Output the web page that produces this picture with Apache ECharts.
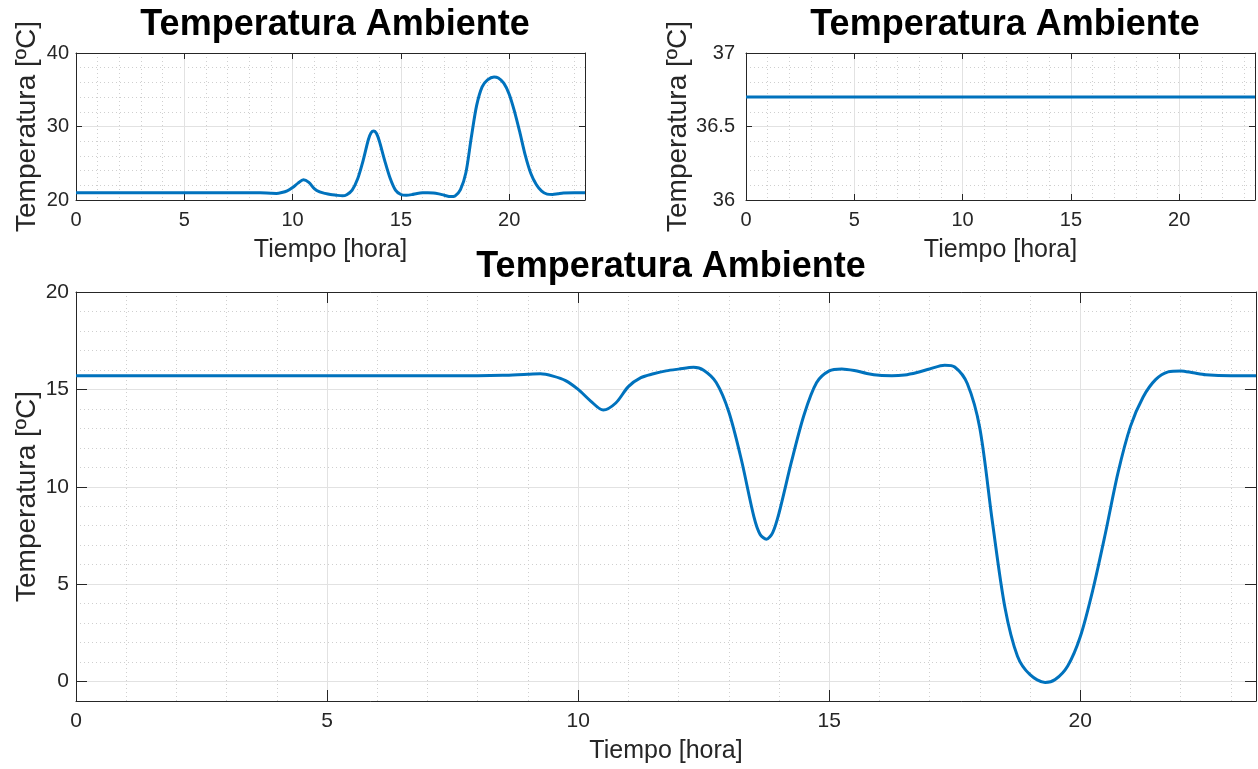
<!DOCTYPE html>
<html>
<head>
<meta charset="utf-8">
<script src="https://cdn.jsdelivr.net/npm/echarts@6/dist/echarts.min.js"></script>
<style>
html, body { margin: 0; padding: 0; background: #fff; }
#chart { width: 1258px; height: 769px; }
</style>
</head>
<body>
<div id="chart"></div>
<script>
// horas
var hours = [0, 1, 2, 3, 4, 5, 6, 7, 8,
	8.5, 9, 9.25, 9.5, 9.75,
	10, 10.25, 10.5, 10.75,
	11, 11.25, 11.5, 11.75,
	12, 12.3, 12.5, 12.75,
	13, 13.25, 13.5, 13.625, 13.75, 13.875,
	14, 14.25, 14.5, 14.75,
	15, 15.25, 15.5, 15.75,
	16, 16.25, 16.5, 16.75,
	17, 17.3, 17.5, 17.75,
	18, 18.25, 18.5, 18.75,
	19, 19.3, 19.5, 19.75,
	20, 20.25, 20.5, 20.75,
	21, 21.25, 21.5, 21.75,
	22, 22.25, 22.5,
	23, 23.5];

// arriba izquierda
var tempAmbiente = [21, 21, 21, 21, 21, 21, 21, 21, 21,
	20.98, 20.92, 20.9, 21.02, 21.25,
	21.7, 22.3, 22.76, 22.4,
	21.56, 21.1, 20.9, 20.75,
	20.66, 20.57, 20.72, 21.35,
	22.85, 25.3, 28.23, 29.15, 29.39, 29.05,
	28.06, 25.4, 23.0, 21.35,
	20.75, 20.65, 20.73, 20.88,
	20.98, 21.0, 20.96, 20.83,
	20.65, 20.46, 20.55, 21.4,
	23.7, 28.5, 32.9, 35.4,
	36.35, 36.75, 36.6, 35.9,
	34.4, 32.0, 29.1, 26.0,
	23.6, 22.1, 21.2, 20.8,
	20.75, 20.85, 20.95,
	21.0, 21.0];

// arriba derecha
var constHours = [0, 23.5];
var tempConstante = [36.7, 36.7];

// abajo
var tempDiferencia = [15.7, 15.7, 15.7, 15.7, 15.7, 15.7, 15.7, 15.7, 15.7,
	15.72, 15.78, 15.8, 15.68, 15.45,
	15.0, 14.4, 13.94, 14.3,
	15.14, 15.6, 15.8, 15.95,
	16.04, 16.13, 15.98, 15.35,
	13.85, 11.4, 8.47, 7.55, 7.31, 7.65,
	8.64, 11.3, 13.7, 15.35,
	15.95, 16.05, 15.97, 15.82,
	15.72, 15.7, 15.74, 15.87,
	16.05, 16.24, 16.15, 15.3,
	13.0, 8.2, 3.8, 1.3,
	0.35, -0.05, 0.1, 0.8,
	2.3, 4.7, 7.6, 10.7,
	13.1, 14.6, 15.5, 15.9,
	15.95, 15.85, 15.75,
	15.7, 15.7];

var font = 'Liberation Sans, Arial, Helvetica, sans-serif';
var axisColor = '#262626';
var lineColor = '#0072BD';

function pairs(xs, ys){
	var out = [];
	for(var i=0; i<xs.length; i++){
		out.push([xs[i], ys[i]]);
	}
	return out;
}

function xAxisMain(grid, tickLen, labelSize){
	return {
		type: 'value', gridIndex: grid, position: 'bottom',
		min: 0, max: 23.5, interval: 5,
		name: 'Tiempo [hora]', nameLocation: 'middle', nameGap: 38, nameMoveOverlap: false,
		nameTextStyle: { fontSize: 25, color: axisColor, fontFamily: font },
		axisLine: { show: true, onZero: false, lineStyle: { color: axisColor, width: 1 } },
		axisTick: { show: true, inside: true, length: tickLen, lineStyle: { color: axisColor } },
		axisLabel: {
			fontSize: labelSize, color: axisColor, fontFamily: font, margin: 10,
			formatter: function(v){ return v > 23 ? '' : String(v); }
		},
		splitLine: { show: true, lineStyle: { color: '#e2e2e2', width: 1 } },
		minorTick: { show: false, splitNumber: 5 },
		minorSplitLine: { show: true, lineStyle: { color: '#cfcfcf', width: 1, type: [1, 3] } }
	};
}

function xAxisBox(grid, tickLen){
	return {
		type: 'value', gridIndex: grid, position: 'top',
		min: 0, max: 23.5, interval: 5,
		axisLine: { show: true, onZero: false, lineStyle: { color: axisColor, width: 1 } },
		axisTick: { show: true, inside: true, length: tickLen, lineStyle: { color: axisColor } },
		axisLabel: { show: false },
		splitLine: { show: false }
	};
}

function yAxisMain(grid, range, tickLen, labelSize, margin, gap){
	var ax = {
		type: 'value', gridIndex: grid, position: 'left',
		min: range[0], max: range[1],
		name: 'Temperatura [ºC]', nameLocation: 'middle', nameGap: gap, nameMoveOverlap: false,
		nameTextStyle: { fontSize: 28, color: axisColor, fontFamily: font },
		axisLine: { show: true, onZero: false, lineStyle: { color: axisColor, width: 1 } },
		axisTick: { show: true, inside: true, length: tickLen, lineStyle: { color: axisColor } },
		axisLabel: {
			fontSize: labelSize, color: axisColor, fontFamily: font, margin: margin,
			formatter: function(v){ return v < range[0] + 1e-9 && range[0] < 0 ? '' : String(v); }
		},
		splitLine: { show: true, lineStyle: { color: '#e2e2e2', width: 1 } },
		minorTick: { show: false, splitNumber: 5 },
		minorSplitLine: { show: true, lineStyle: { color: '#cfcfcf', width: 1, type: [1, 3] } }
	};
	if(range[2]) ax.interval = range[2];
	else ax.splitNumber = 5;
	return ax;
}

function yAxisBox(grid, range, tickLen){
	var ax = {
		type: 'value', gridIndex: grid, position: 'right',
		min: range[0], max: range[1],
		axisLine: { show: true, onZero: false, lineStyle: { color: axisColor, width: 1 } },
		axisTick: { show: true, inside: true, length: tickLen, lineStyle: { color: axisColor } },
		axisLabel: { show: false },
		splitLine: { show: false }
	};
	if(range[2]) ax.interval = range[2];
	else ax.splitNumber = 5;
	return ax;
}

function lineSeries(xi, yi, data){
	return {
		type: 'line', xAxisIndex: xi, yAxisIndex: yi,
		data: data, showSymbol: false, symbol: 'none',
		smooth: 0.3,
		lineStyle: { color: lineColor, width: 3 },
		itemStyle: { color: lineColor },
		z: 5
	};
}

function titleAt(x, y){
	return {
		text: 'Temperatura Ambiente', left: x, top: y, textAlign: 'center',
		textStyle: { fontSize: 36, fontWeight: 'bold', color: '#000', fontFamily: font }
	};
}

var rangeAmb = [20, 40, 10];
var rangeConst = [36, 37, 0.5];
var rangeDif = [-1, 20, 0];

var myChart = echarts.init(document.getElementById('chart'));
var option = {
	animation: false,
	backgroundColor: '#fff',
	title: [titleAt(330, 2), titleAt(1000, 2), titleAt(666, 244)],
	grid: [
		{ left: 76, top: 53, width: 509, height: 147, outerBoundsMode: 'none' },
		{ left: 746, top: 53, width: 509, height: 147, outerBoundsMode: 'none' },
		{ left: 76, top: 292, width: 1180, height: 409, outerBoundsMode: 'none' }
	],
	xAxis: [
		xAxisMain(0, 6, 20), xAxisMain(1, 6, 20), xAxisMain(2, 11, 21),
		xAxisBox(0, 6), xAxisBox(1, 6), xAxisBox(2, 11)
	],
	yAxis: [
		yAxisMain(0, rangeAmb, 6, 20, 7, 35),
		yAxisMain(1, rangeConst, 6, 20, 11, 54),
		yAxisMain(2, rangeDif, 11, 21, 7, 35),
		yAxisBox(0, rangeAmb, 6), yAxisBox(1, rangeConst, 6), yAxisBox(2, rangeDif, 11)
	],
	series: [
		lineSeries(0, 0, pairs(hours, tempAmbiente)),
		lineSeries(1, 1, pairs(constHours, tempConstante)),
		lineSeries(2, 2, pairs(hours, tempDiferencia))
	]
};
myChart.setOption(option);
</script>
</body>
</html>
